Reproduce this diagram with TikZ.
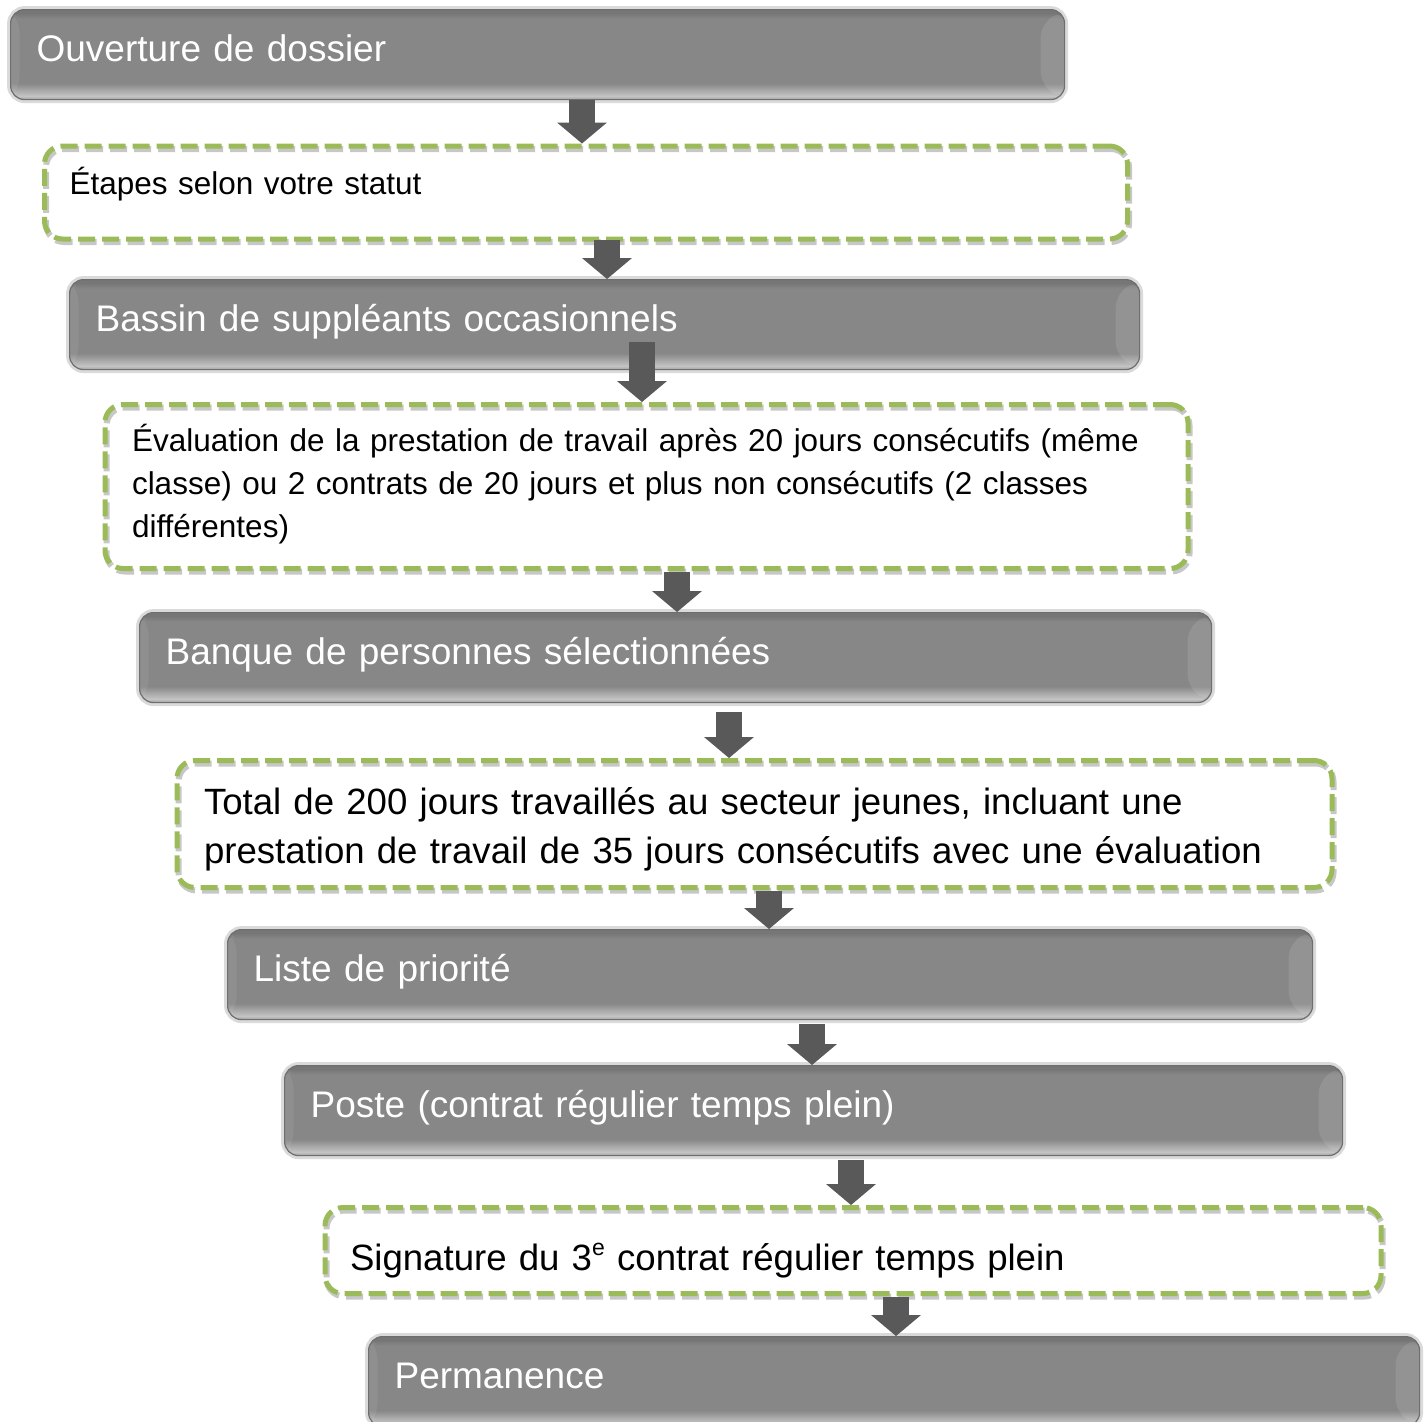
\documentclass[tikz,border=0pt]{standalone}
\usepackage{fontspec}
\setmainfont{Liberation Sans}
\usetikzlibrary{arrows.meta,calc}

\definecolor{flowgreen}{HTML}{9BBB59}
\definecolor{arrowgray}{HTML}{595959}
\definecolor{boxedge}{HTML}{6E6E6E}
\definecolor{boxring}{HTML}{DADADA}
\definecolor{gbTop}{HTML}{767676}
\definecolor{gbMid}{HTML}{878787}
\definecolor{gbLight}{HTML}{C4C4C4}
\definecolor{gbBot}{HTML}{A0A0A0}
\pgfdeclareverticalshading{graybar}{100bp}{color(0bp)=(gbBot); color(25bp)=(gbBot); color(27bp)=(gbLight); color(34bp)=(gbMid); color(70bp)=(gbMid); color(73bp)=(gbTop); color(75bp)=(gbTop); color(100bp)=(gbTop)}

\newcommand\bigtext{\fontsize{37}{49}\selectfont}
\newcommand\midtext{\fontsize{36.6}{49}\selectfont}
\newcommand\smalltext{\fontsize{31.5}{43}\selectfont}
\newcommand\supe{\raisebox{15pt}{\fontsize{23}{23}\selectfont e}}

\tikzset{
  graybox/.style={rectangle, rounded corners=14pt, anchor=north west,
    shade, shading=graybar, draw=boxedge, line width=1.2pt,
    preaction={draw=boxring, line width=7pt},
    path picture={
      \fill[white, opacity=.10] (path picture bounding box.north east) -- ++(-24,14)
        -- ($(path picture bounding box.south east)+(-24,-14)$) -- (path picture bounding box.south east) -- cycle;
      \fill[white, opacity=.07] (path picture bounding box.north west) -- ++(9,10)
        -- ($(path picture bounding box.south west)+(9,-10)$) -- (path picture bounding box.south west) -- cycle;
    },
    minimum height=90pt, inner xsep=26pt, text height=27pt, text depth=14pt,
    align=left, text=white, font=\bigtext},
  dashbox/.style={rectangle, rounded corners=18pt, anchor=north west,
    draw=flowgreen, line width=5pt, dash pattern=on 17pt off 7pt,
    preaction={draw=black!22, line width=6pt, dash pattern=on 17pt off 7pt,
      transform canvas={xshift=1.5pt, yshift=-3pt}},
    inner xsep=27pt, align=left, text=black},
  flowarrow/.style={draw=arrowgray, line width=26pt,
    -{Triangle[width=50pt, length=21pt, line width=0pt]}}
}

\begin{document}
\begin{tikzpicture}[x=1pt, y=-1pt]
  \useasboundingbox (0,0) rectangle (1428,1422);

  \node[graybox, text width=1002pt] (b1) at (10,9) {Ouverture de dossier};
  \node[dashbox, font=\smalltext, text width=1033pt, minimum height=93pt,
    text height=23pt, text depth=19pt, inner xsep=25pt] (b2) at (42,143.5) {Étapes selon votre statut};
  \node[graybox, text width=1018pt] (b3) at (69,279) {Bassin de suppléants occasionnels};
  \node[dashbox, font=\smalltext, text width=1029pt, minimum height=164pt,
    text height=23pt, text depth=94pt] (b4) at (102.5,402)
    {Évaluation de la prestation de travail après 20 jours consécutifs (même\\
     classe) ou 2 contrats de 20 jours et plus non consécutifs (2 classes\\
     différentes)};
  \node[graybox, text width=1020pt] (b5) at (139,612) {Banque de personnes sélectionnées};
  \node[dashbox, font=\midtext, text width=1101pt, minimum height=127pt,
    text height=27pt, text depth=46pt] (b6) at (174.5,758)
    {Total de 200 jours travaillés au secteur jeunes, incluant une\\
     prestation de travail de 35 jours consécutifs avec une évaluation};
  \node[graybox, text width=1033pt] (b7) at (227,929) {Liste de priorité};
  \node[graybox, text width=1006pt] (b8) at (284,1065) {Poste (contrat régulier temps plein)};
  \node[dashbox, font=\midtext, text width=1006pt, minimum height=86pt,
    text height=40pt, text depth=0pt, inner xsep=25pt] (b9) at (322.5,1205)
    {Signature du 3\supe{} contrat régulier temps plein};
  \node[graybox, text width=999pt] (b10) at (368,1336) {Permanence};

  % arrows between the steps
  \foreach \i/\ax/\ay/\nxt in {1/582/100/b2, 2/607/240/b3, 3/642/342/b4,
      4/677/572/b5, 5/729/712/b6, 6/769/891/b7, 7/812/1024/b8,
      8/851/1160/b9, 9/896/1297/b10} {
    \coordinate (s\i) at (\ax,\ay);
    \draw[flowarrow] (s\i) -- (s\i |- \nxt.north);
  }
\end{tikzpicture}
\end{document}
